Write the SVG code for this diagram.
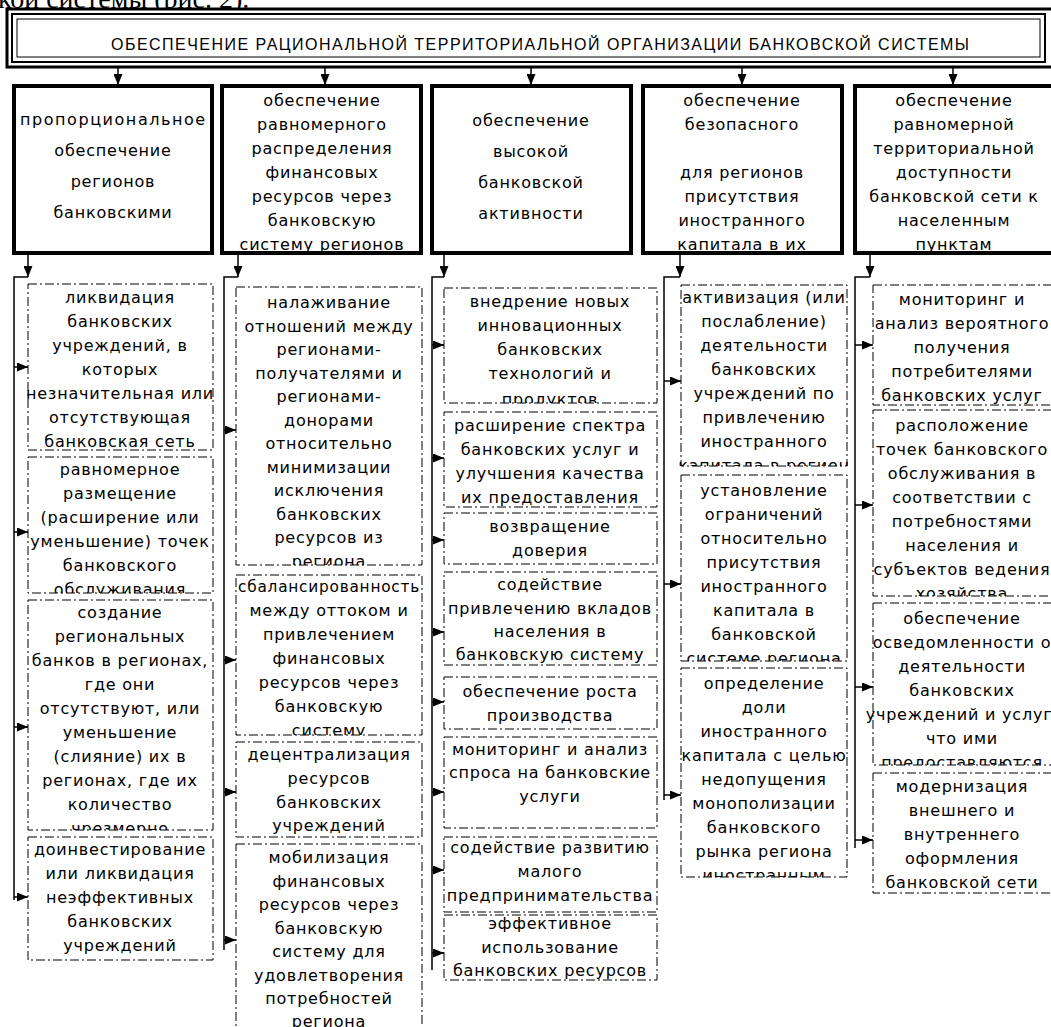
<svg xmlns="http://www.w3.org/2000/svg" width="1051" height="1027" viewBox="0 0 1051 1027">
<style>
.top{fill:#fff;stroke:#000;stroke-width:4}
.dash{fill:#fff;stroke:#000;stroke-width:1;stroke-dasharray:9 3 2 3}
.t{font-family:"DejaVu Sans",sans-serif;font-size:16px;text-anchor:middle;letter-spacing:0.8px;fill:#000}
.ln{fill:none;stroke:#000;stroke-width:1.5}
</style>
<defs>
<marker id="ah" markerWidth="11" markerHeight="9" refX="11" refY="4.5" orient="auto" markerUnits="userSpaceOnUse"><path d="M0,0 L11,4.5 L0,9 z" fill="#000"/></marker>
<clipPath id="k1t"><rect x="0" y="88" width="230" height="163"/></clipPath>
<clipPath id="k2t"><rect x="200" y="88" width="240" height="163"/></clipPath>
<clipPath id="k3t"><rect x="420" y="88" width="230" height="163"/></clipPath>
<clipPath id="k4t"><rect x="630" y="88" width="230" height="163"/></clipPath>
<clipPath id="k5t"><rect x="840" y="88" width="230" height="163"/></clipPath>
<clipPath id="k1a"><rect x="18" y="284" width="205" height="166"/></clipPath>
<clipPath id="k1b"><rect x="18" y="457" width="205" height="136"/></clipPath>
<clipPath id="k1c"><rect x="18" y="600" width="205" height="230"/></clipPath>
<clipPath id="k1d"><rect x="18" y="837" width="205" height="123"/></clipPath>
<clipPath id="k2a"><rect x="226" y="287" width="206" height="278"/></clipPath>
<clipPath id="k2b"><rect x="226" y="575" width="206" height="160"/></clipPath>
<clipPath id="k2c"><rect x="226" y="742" width="206" height="95"/></clipPath>
<clipPath id="k2d"><rect x="226" y="844" width="206" height="200"/></clipPath>
<clipPath id="k3a"><rect x="434" y="288" width="233" height="115"/></clipPath>
<clipPath id="k4a"><rect x="671" y="285" width="186" height="181"/></clipPath>
<clipPath id="k4b"><rect x="671" y="475" width="186" height="186"/></clipPath>
<clipPath id="k4c"><rect x="671" y="668" width="186" height="209"/></clipPath>
<clipPath id="k5b"><rect x="863" y="410" width="210" height="186"/></clipPath>
<clipPath id="k5c"><rect x="863" y="603" width="210" height="162"/></clipPath>
</defs>
<rect width="1051" height="1027" fill="#fff"/>
<text x="-2" y="8" font-family="Liberation Serif, serif" font-size="28">кой системы (рис. 2).</text>

<g id="header">
<rect x="7" y="9" width="1050" height="58" fill="#fff" stroke="#000" stroke-width="3"/>
<rect x="12" y="14" width="1033" height="48" fill="none" stroke="#000" stroke-width="2"/>
<rect x="17" y="19" width="1023" height="38" fill="none" stroke="#000" stroke-width="1"/>
<text x="111" y="50" font-family="Liberation Sans, sans-serif" font-size="16" textLength="858" lengthAdjust="spacing">ОБЕСПЕЧЕНИЕ  РАЦИОНАЛЬНОЙ  ТЕРРИТОРИАЛЬНОЙ  ОРГАНИЗАЦИИ  БАНКОВСКОЙ  СИСТЕМЫ</text>
</g>

<g id="connectors">
<path class="ln" d="M118,67 V85" marker-end="url(#ah)"/>
<path class="ln" d="M325,67 V85" marker-end="url(#ah)"/>
<path class="ln" d="M531,67 V85" marker-end="url(#ah)"/>
<path class="ln" d="M742,67 V85" marker-end="url(#ah)"/>
<path class="ln" d="M953,67 V85" marker-end="url(#ah)"/>
<path class="ln" d="M28,255 V277" marker-end="url(#ah)"/>
<path class="ln" d="M238,255 V277" marker-end="url(#ah)"/>
<path class="ln" d="M444,255 V277" marker-end="url(#ah)"/>
<path class="ln" d="M680,255 V277" marker-end="url(#ah)"/>
<path class="ln" d="M870,255 V277" marker-end="url(#ah)"/>
<path class="ln" d="M28,277 H14 V900"/>
<path class="ln" d="M238,277 H224 V950"/>
<path class="ln" d="M444,277 H432 V970"/>
<path class="ln" d="M680,277 H664 V800"/>
<path class="ln" d="M870,277 H855 V848"/>
<path class="ln" d="M14,367 H28" marker-end="url(#ah)"/>
<path class="ln" d="M14,532 H28" marker-end="url(#ah)"/>
<path class="ln" d="M14,727 H28" marker-end="url(#ah)"/>
<path class="ln" d="M14,897 H28" marker-end="url(#ah)"/>
<path class="ln" d="M224,430 H236" marker-end="url(#ah)"/>
<path class="ln" d="M224,660 H236" marker-end="url(#ah)"/>
<path class="ln" d="M224,792 H236" marker-end="url(#ah)"/>
<path class="ln" d="M224,940 H236" marker-end="url(#ah)"/>
<path class="ln" d="M432,345 H444" marker-end="url(#ah)"/>
<path class="ln" d="M432,458 H444" marker-end="url(#ah)"/>
<path class="ln" d="M432,540 H444" marker-end="url(#ah)"/>
<path class="ln" d="M432,632 H444" marker-end="url(#ah)"/>
<path class="ln" d="M432,702 H444" marker-end="url(#ah)"/>
<path class="ln" d="M432,792 H444" marker-end="url(#ah)"/>
<path class="ln" d="M432,870 H444" marker-end="url(#ah)"/>
<path class="ln" d="M432,953 H444" marker-end="url(#ah)"/>
<path class="ln" d="M664,381 H681" marker-end="url(#ah)"/>
<path class="ln" d="M664,584 H681" marker-end="url(#ah)"/>
<path class="ln" d="M664,795 H681" marker-end="url(#ah)"/>
<path class="ln" d="M855,345 H873" marker-end="url(#ah)"/>
<path class="ln" d="M855,505 H873" marker-end="url(#ah)"/>
<path class="ln" d="M855,687 H873" marker-end="url(#ah)"/>
<path class="ln" d="M855,840 H873" marker-end="url(#ah)"/>
</g>

<g id="top1"><rect class="top" x="14" y="86" width="198" height="167"/>
<text class="t" clip-path="url(#k1t)"><tspan x="113" y="125" textLength="186" lengthAdjust="spacing">пропорциональное</tspan><tspan x="113" y="156">обеспечение</tspan><tspan x="113" y="187">регионов</tspan><tspan x="113" y="218">банковскими</tspan></text></g>
<g id="top2"><rect class="top" x="222" y="86" width="199" height="167"/>
<text class="t" clip-path="url(#k2t)"><tspan x="322" y="106">обеспечение</tspan><tspan x="322" y="130">равномерного</tspan><tspan x="322" y="154">распределения</tspan><tspan x="322" y="178">финансовых</tspan><tspan x="322" y="202">ресурсов через</tspan><tspan x="322" y="226">банковскую</tspan><tspan x="322" y="250">систему регионов</tspan></text></g>
<g id="top3"><rect class="top" x="432" y="86" width="199" height="167"/>
<text class="t" clip-path="url(#k3t)"><tspan x="531" y="126">обеспечение</tspan><tspan x="531" y="157">высокой</tspan><tspan x="531" y="188">банковской</tspan><tspan x="531" y="219">активности</tspan></text></g>
<g id="top4"><rect class="top" x="643" y="86" width="199" height="167"/>
<text class="t" clip-path="url(#k4t)"><tspan x="742" y="106">обеспечение</tspan><tspan x="742" y="130">безопасного</tspan><tspan x="742" y="178">для регионов</tspan><tspan x="742" y="202">присутствия</tspan><tspan x="742" y="226">иностранного</tspan><tspan x="742" y="250">капитала в их</tspan></text></g>
<g id="top5"><rect class="top" x="855" y="86" width="199" height="167"/>
<text class="t" clip-path="url(#k5t)"><tspan x="954" y="106">обеспечение</tspan><tspan x="954" y="130">равномерной</tspan><tspan x="954" y="154">территориальной</tspan><tspan x="954" y="178">доступности</tspan><tspan x="954" y="202">банковской сети к</tspan><tspan x="954" y="226">населенным</tspan><tspan x="954" y="250">пунктам</tspan></text></g>

<g id="c1a"><rect class="dash" x="28" y="284" width="185" height="166"/>
<text class="t" clip-path="url(#k1a)"><tspan x="120" y="303">ликвидация</tspan><tspan x="120" y="327">банковских</tspan><tspan x="120" y="351">учреждений, в</tspan><tspan x="120" y="375">которых</tspan><tspan x="120" y="399">незначительная или</tspan><tspan x="120" y="423">отсутствующая</tspan><tspan x="120" y="447">банковская сеть</tspan></text></g>
<g id="c1b"><rect class="dash" x="28" y="457" width="185" height="136"/>
<text class="t" clip-path="url(#k1b)"><tspan x="120" y="475">равномерное</tspan><tspan x="120" y="499">размещение</tspan><tspan x="120" y="523">(расширение или</tspan><tspan x="120" y="547">уменьшение) точек</tspan><tspan x="120" y="571">банковского</tspan><tspan x="120" y="595">обслуживания</tspan></text></g>
<g id="c1c"><rect class="dash" x="28" y="600" width="185" height="230"/>
<text class="t" clip-path="url(#k1c)"><tspan x="120" y="618">создание</tspan><tspan x="120" y="642">региональных</tspan><tspan x="120" y="666">банков в регионах,</tspan><tspan x="120" y="690">где они</tspan><tspan x="120" y="714">отсутствуют, или</tspan><tspan x="120" y="738">уменьшение</tspan><tspan x="120" y="762">(слияние) их в</tspan><tspan x="120" y="786">регионах, где их</tspan><tspan x="120" y="810">количество</tspan><tspan x="120" y="834">чрезмерно</tspan></text></g>
<g id="c1d"><rect class="dash" x="28" y="837" width="185" height="123"/>
<text class="t" clip-path="url(#k1d)"><tspan x="120" y="855">доинвестирование</tspan><tspan x="120" y="879">или ликвидация</tspan><tspan x="120" y="903">неэффективных</tspan><tspan x="120" y="927">банковских</tspan><tspan x="120" y="951">учреждений</tspan></text></g>

<g id="c2a"><rect class="dash" x="236" y="287" width="186" height="278"/>
<text class="t" clip-path="url(#k2a)"><tspan x="329" y="308">налаживание</tspan><tspan x="329" y="331.5">отношений между</tspan><tspan x="329" y="355">регионами-</tspan><tspan x="329" y="378.5">получателями и</tspan><tspan x="329" y="402">регионами-</tspan><tspan x="329" y="425.5">донорами</tspan><tspan x="329" y="449">относительно</tspan><tspan x="329" y="472.5">минимизации</tspan><tspan x="329" y="496">исключения</tspan><tspan x="329" y="519.5">банковских</tspan><tspan x="329" y="543">ресурсов из</tspan><tspan x="329" y="566.5">региона</tspan></text></g>
<g id="c2b"><rect class="dash" x="236" y="575" width="186" height="160"/>
<text class="t" clip-path="url(#k2b)"><tspan x="329" y="592" textLength="182" lengthAdjust="spacingAndGlyphs">сбалансированность</tspan><tspan x="329" y="616">между оттоком и</tspan><tspan x="329" y="640">привлечением</tspan><tspan x="329" y="664">финансовых</tspan><tspan x="329" y="688">ресурсов через</tspan><tspan x="329" y="712">банковскую</tspan><tspan x="329" y="736">систему</tspan></text></g>
<g id="c2c"><rect class="dash" x="236" y="742" width="186" height="95"/>
<text class="t" clip-path="url(#k2c)"><tspan x="329" y="760">децентрализация</tspan><tspan x="329" y="784">ресурсов</tspan><tspan x="329" y="808">банковских</tspan><tspan x="329" y="831">учреждений</tspan></text></g>
<g id="c2d"><rect class="dash" x="236" y="844" width="186" height="200"/>
<text class="t" clip-path="url(#k2d)"><tspan x="329" y="863">мобилизация</tspan><tspan x="329" y="887">финансовых</tspan><tspan x="329" y="910">ресурсов через</tspan><tspan x="329" y="934">банковскую</tspan><tspan x="329" y="957">систему для</tspan><tspan x="329" y="981">удовлетворения</tspan><tspan x="329" y="1004">потребностей</tspan><tspan x="329" y="1027">региона</tspan></text></g>

<g id="c3a"><rect class="dash" x="444" y="288" width="213" height="115"/>
<text class="t" clip-path="url(#k3a)"><tspan x="550" y="307">внедрение новых</tspan><tspan x="550" y="331">инновационных</tspan><tspan x="550" y="355">банковских</tspan><tspan x="550" y="379">технологий и</tspan><tspan x="550" y="405">продуктов</tspan></text></g>
<g id="c3b"><rect class="dash" x="444" y="412" width="213" height="95"/>
<text class="t"><tspan x="550" y="431">расширение спектра</tspan><tspan x="550" y="455">банковских услуг и</tspan><tspan x="550" y="479">улучшения качества</tspan><tspan x="550" y="503">их предоставления</tspan></text></g>
<g id="c3c"><rect class="dash" x="444" y="513" width="213" height="51"/>
<text class="t"><tspan x="550" y="532">возвращение</tspan><tspan x="550" y="556">доверия</tspan></text></g>
<g id="c3d"><rect class="dash" x="444" y="572" width="213" height="93"/>
<text class="t"><tspan x="550" y="590">содействие</tspan><tspan x="550" y="614">привлечению вкладов</tspan><tspan x="550" y="637">населения в</tspan><tspan x="550" y="660">банковскую систему</tspan></text></g>
<g id="c3e"><rect class="dash" x="444" y="677" width="213" height="52"/>
<text class="t"><tspan x="550" y="697">обеспечение роста</tspan><tspan x="550" y="721">производства</tspan></text></g>
<g id="c3f"><rect class="dash" x="444" y="737" width="213" height="91"/>
<text class="t"><tspan x="550" y="755">мониторинг и анализ</tspan><tspan x="550" y="778">спроса на банковские</tspan><tspan x="550" y="802">услуги</tspan></text></g>
<g id="c3g"><rect class="dash" x="444" y="837" width="213" height="75"/>
<text class="t"><tspan x="550" y="853">содействие развитию</tspan><tspan x="550" y="877">малого</tspan><tspan x="550" y="901">предпринимательства</tspan></text></g>
<g id="c3h"><rect class="dash" x="444" y="915" width="213" height="65"/>
<text class="t"><tspan x="550" y="929">эффективное</tspan><tspan x="550" y="953">использование</tspan><tspan x="550" y="976">банковских ресурсов</tspan></text></g>

<g id="c4a"><rect class="dash" x="681" y="285" width="166" height="181"/>
<text class="t" clip-path="url(#k4a)"><tspan x="764" y="303">активизация (или</tspan><tspan x="764" y="327">послабление)</tspan><tspan x="764" y="351">деятельности</tspan><tspan x="764" y="375">банковских</tspan><tspan x="764" y="399">учреждений по</tspan><tspan x="764" y="423">привлечению</tspan><tspan x="764" y="447">иностранного</tspan><tspan x="764" y="471">капитала в регион</tspan></text></g>
<g id="c4b"><rect class="dash" x="681" y="475" width="166" height="186"/>
<text class="t" clip-path="url(#k4b)"><tspan x="764" y="496">установление</tspan><tspan x="764" y="520">ограничений</tspan><tspan x="764" y="544">относительно</tspan><tspan x="764" y="568">присутствия</tspan><tspan x="764" y="592">иностранного</tspan><tspan x="764" y="616">капитала в</tspan><tspan x="764" y="640">банковской</tspan><tspan x="764" y="664">системе региона</tspan></text></g>
<g id="c4c"><rect class="dash" x="681" y="668" width="166" height="209"/>
<text class="t" clip-path="url(#k4c)"><tspan x="764" y="689">определение</tspan><tspan x="764" y="713">доли</tspan><tspan x="764" y="737">иностранного</tspan><tspan x="764" y="761">капитала с целью</tspan><tspan x="764" y="785">недопущения</tspan><tspan x="764" y="809">монополизации</tspan><tspan x="764" y="833">банковского</tspan><tspan x="764" y="857">рынка региона</tspan><tspan x="764" y="881">иностранным</tspan></text></g>

<g id="c5a"><rect class="dash" x="873" y="285" width="190" height="120"/>
<text class="t"><tspan x="962" y="305">мониторинг и</tspan><tspan x="962" y="329">анализ вероятного</tspan><tspan x="962" y="353">получения</tspan><tspan x="962" y="377">потребителями</tspan><tspan x="962" y="401">банковских услуг</tspan></text></g>
<g id="c5b"><rect class="dash" x="873" y="410" width="190" height="186"/>
<text class="t" clip-path="url(#k5b)"><tspan x="962" y="431">расположение</tspan><tspan x="962" y="455">точек банковского</tspan><tspan x="962" y="479">обслуживания в</tspan><tspan x="962" y="503">соответствии с</tspan><tspan x="962" y="527">потребностями</tspan><tspan x="962" y="551">населения и</tspan><tspan x="962" y="575">субъектов ведения</tspan><tspan x="962" y="599">хозяйства</tspan></text></g>
<g id="c5c"><rect class="dash" x="873" y="603" width="190" height="162"/>
<text class="t" clip-path="url(#k5c)"><tspan x="962" y="624">обеспечение</tspan><tspan x="962" y="648">осведомленности о</tspan><tspan x="962" y="672">деятельности</tspan><tspan x="962" y="696">банковских</tspan><tspan x="962" y="720">учреждений и услуг,</tspan><tspan x="962" y="744">что ими</tspan><tspan x="962" y="768">предоставляются</tspan></text></g>
<g id="c5d"><rect class="dash" x="873" y="773" width="190" height="120"/>
<text class="t"><tspan x="962" y="792">модернизация</tspan><tspan x="962" y="816">внешнего и</tspan><tspan x="962" y="840">внутреннего</tspan><tspan x="962" y="864">оформления</tspan><tspan x="962" y="888">банковской сети</tspan></text></g>
</svg>
